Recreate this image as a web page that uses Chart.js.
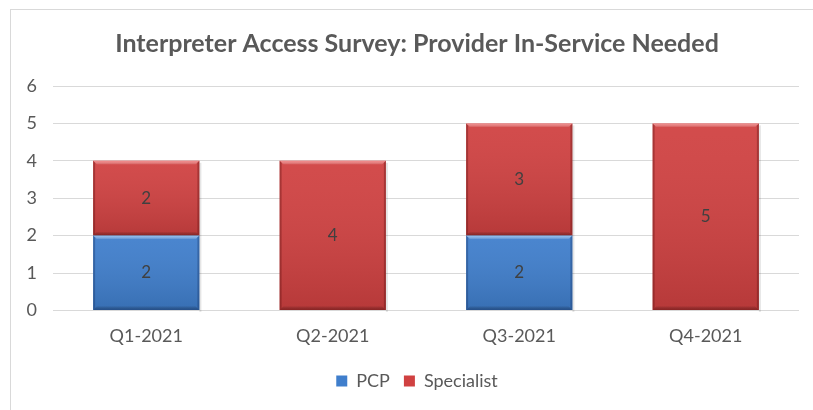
<!DOCTYPE html>
<html>
<head>
<meta charset="utf-8">
<title>Interpreter Access Survey</title>
<script src="https://cdn.jsdelivr.net/npm/chart.js@4.4.1/dist/chart.umd.min.js"></script>
<style>
    body { margin: 0; background: #fff; overflow: hidden; }
    #frame {
        position: absolute; left: 10px; top: 9px;
        width: 830px; height: 430px;
        border: 1px solid #d9d9d9;
    }
    #chart-wrapper { position: absolute; left: 0; top: 0; width: 837px; height: 410px; }
</style>
</head>
<body>
<div id="frame"></div>
<div id="chart-wrapper"><canvas id="myChart" width="837" height="410"></canvas></div>
<script>

var quarters = ['Q1-2021', 'Q2-2021', 'Q3-2021', 'Q4-2021'];
var pcp = [2, 0, 2, 0];
var specialist = [2, 4, 3, 5];

const FONT = "Lato, 'Open Sans', sans-serif";
const TEXT = '#595959';

// soft bevel over each bar: shading from top to bottom, light top edge, dark sides and bottom
const bevel = {
    id: 'bevel',
    afterDatasetsDraw(chart) {
        const ctx = chart.ctx;
        chart.data.datasets.forEach((ds, i) => {
            const meta = chart.getDatasetMeta(i);
            meta.data.forEach((bar, j) => {
                if (!ds.data[j]) return;
                const x0 = bar.x - bar.width / 2, x1 = bar.x + bar.width / 2;
                const y0 = Math.min(bar.y, bar.base), y1 = Math.max(bar.y, bar.base);
                const b = 4;
                ctx.save();
                // body shading
                let g = ctx.createLinearGradient(0, y0, 0, y1);
                g.addColorStop(0, 'rgba(255,255,255,0.06)');
                g.addColorStop(1, 'rgba(0,0,0,0.12)');
                ctx.fillStyle = g;
                ctx.fillRect(x0, y0, x1 - x0, y1 - y0);
                // top
                g = ctx.createLinearGradient(0, y0, 0, y0 + b);
                g.addColorStop(0, ds.bevelLight);
                g.addColorStop(1, 'rgba(255,255,255,0)');
                ctx.fillStyle = g;
                ctx.beginPath();
                ctx.moveTo(x0, y0); ctx.lineTo(x1, y0); ctx.lineTo(x1 - b, y0 + b); ctx.lineTo(x0 + b, y0 + b);
                ctx.fill();
                // left
                ctx.fillStyle = ds.bevelSide;
                ctx.beginPath();
                ctx.moveTo(x0, y0); ctx.lineTo(x0 + 2, y0 + 2); ctx.lineTo(x0 + 2, y1 - 2); ctx.lineTo(x0, y1);
                ctx.fill();
                // right
                ctx.beginPath();
                ctx.moveTo(x1, y0); ctx.lineTo(x1 - 2, y0 + 2); ctx.lineTo(x1 - 2, y1 - 2); ctx.lineTo(x1, y1);
                ctx.fill();
                // bottom
                g = ctx.createLinearGradient(0, y1 - b, 0, y1);
                g.addColorStop(0, 'rgba(0,0,0,0)');
                g.addColorStop(1, ds.bevelDark);
                ctx.fillStyle = g;
                ctx.beginPath();
                ctx.moveTo(x0, y1); ctx.lineTo(x1, y1); ctx.lineTo(x1 - b, y1 - b); ctx.lineTo(x0 + b, y1 - b);
                ctx.fill();
                // shadow on the right
                ctx.fillStyle = 'rgba(0,0,0,0.10)';
                ctx.fillRect(x1, y0 + 2, 2, y1 - y0);
                ctx.restore();
            });
        });
    }
};

// value labels in the middle of each segment
const valueLabels = {
    id: 'valueLabels',
    afterDatasetsDraw(chart) {
        const ctx = chart.ctx;
        ctx.save();
        ctx.font = '17px ' + FONT;
        ctx.fillStyle = '#404040';
        ctx.textAlign = 'center';
        ctx.textBaseline = 'middle';
        chart.data.datasets.forEach((ds, i) => {
            chart.getDatasetMeta(i).data.forEach((bar, j) => {
                if (!ds.data[j]) return;
                ctx.fillText(ds.data[j], bar.x, (bar.y + bar.base) / 2);
            });
        });
        ctx.restore();
    }
};

const ctx = document.getElementById('myChart').getContext('2d');

var myChart = new Chart(ctx, {
    type: 'bar',
    data: {
        labels: quarters,
        datasets: [{
            label: 'PCP',
            data: pcp,
            backgroundColor: '#3f7ecc',
            bevelLight: 'rgba(160,205,250,0.8)',
            bevelSide: 'rgba(20,50,100,0.35)',
            bevelDark: 'rgba(15,40,85,0.45)'
        }, {
            label: 'Specialist',
            data: specialist,
            backgroundColor: '#d04141',
            bevelLight: 'rgba(250,150,150,0.8)',
            bevelSide: 'rgba(90,15,15,0.35)',
            bevelDark: 'rgba(80,10,10,0.45)'
        }]
    },
    options: {
        responsive: false,
        animation: false,
        categoryPercentage: 1.0,
        barPercentage: 0.57,
        layout: { padding: { left: 10, right: 13, top: 0, bottom: 10 } },
        scales: {
            x: {
                stacked: true,
                grid: { display: false },
                border: { display: false },
                ticks: { color: TEXT, font: { family: FONT, size: 18 }, padding: 7 },
                afterFit(scale) { scale.height += 4; }
            },
            y: {
                stacked: true,
                min: 0,
                max: 6,
                grid: { color: '#d9d9d9', drawTicks: false },
                border: { display: false },
                ticks: { stepSize: 1, color: TEXT, font: { family: FONT, size: 18 }, padding: 16 },
                afterFit(scale) { scale.width = 43; }
            },
            // empty margin on the right of the plot
            yRight: {
                position: 'right',
                grid: { display: false },
                border: { display: false },
                ticks: { display: false },
                afterFit(scale) { scale.width = 25; }
            }
        },
        plugins: {
            title: {
                display: true,
                text: 'Interpreter Access Survey: Provider In-Service Needed',
                color: TEXT,
                font: { family: FONT, size: 25, weight: 'bold' },
                padding: { top: 29, bottom: 27 }
            },
            legend: {
                position: 'bottom',
                labels: {
                    color: TEXT,
                    font: { family: FONT, size: 18 },
                    boxWidth: 11,
                    boxHeight: 11,
                    padding: 14
                }
            },
            tooltip: { enabled: false }
        }
    },
    plugins: [bevel, valueLabels]
});

</script>
</body>
</html>
